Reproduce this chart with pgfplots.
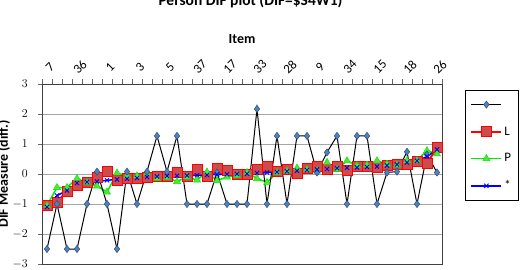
\documentclass[border=0pt]{standalone}
\usepackage{pgfplots}
\usepackage{pgfplotstable}
\pgfplotsset{compat=1.18}
\usepackage{fontspec}
\setmainfont{Carlito}
\definecolor{dfill}{RGB}{79,129,189}
\definecolor{ddraw}{RGB}{50,80,120}
\definecolor{lfill}{RGB}{205,75,75}
\definecolor{lline}{RGB}{255,0,0}
\definecolor{pfill}{RGB}{90,225,60}
\definecolor{pline}{RGB}{0,235,0}
\definecolor{sline}{RGB}{0,0,255}
\pgfplotstableread{
i D L P S
0 -2.5 -1.05 -1.05 -1.10
1 -1.0 -0.93 -0.45 -0.72
2 -2.5 -0.58 -0.45 -0.55
3 -2.5 -0.36 -0.15 -0.30
4 -1.0 -0.27 -0.28 -0.27
5 0.08 -0.12 -0.40 -0.25
6 -1.0 0.09 -0.60 -0.21
7 -2.5 -0.22 0.03 -0.18
8 0.08 -0.13 -0.06 -0.16
9 -1.0 -0.14 -0.06 -0.13
10 0.08 -0.11 0.02 -0.10
11 1.27 -0.06 -0.15 -0.08
12 0.08 -0.06 -0.12 -0.07
13 1.27 0.06 -0.25 -0.06
14 -1.0 -0.06 -0.10 -0.05
15 -1.0 0.15 -0.20 -0.04
16 -1.0 -0.06 0.07 -0.03
17 0.05 0.20 -0.22 -0.02
18 -1.0 0.11 -0.10 -0.01
19 -1.0 0.00 -0.05 0.00
20 -1.0 0.00 0.05 0.01
21 2.17 0.15 -0.15 0.03
22 -1.0 0.27 -0.28 0.05
23 1.27 0.08 0.05 0.07
24 -1.0 0.16 0.10 0.09
25 1.27 0.04 0.20 0.11
26 1.27 0.20 0.15 0.13
27 0.05 0.27 0.10 0.15
28 0.72 0.17 0.39 0.17
29 1.27 0.25 0.15 0.19
30 -1.0 0.11 0.44 0.21
31 1.27 0.25 0.28 0.22
32 1.27 0.27 0.30 0.23
33 -1.0 0.22 0.44 0.25
34 0.05 0.28 0.33 0.28
35 0.08 0.33 0.30 0.32
36 0.74 0.33 0.45 0.38
37 -1.0 0.44 0.45 0.44
38 0.65 0.36 0.78 0.58
39 0.05 0.88 0.67 0.82
}\data
\begin{document}
\begin{tikzpicture}
\useasboundingbox (-42bp,-6bp) rectangle (479bp,264bp);
\clip (-42bp,-6bp) rectangle (479bp,264bp);
\begin{axis}[
  at={(0bp,0bp)}, anchor=south west,
  width=400bp, height=180bp, scale only axis,
  xmin=-0.5, xmax=39.5, ymin=-3, ymax=3,
  xtick={0,3,...,39},
  xticklabels={7,36,1,3,5,37,17,33,28,9,34,15,18,26},
  minor xtick={-0.5,0.5,...,39.5},
  major x tick style={draw=none},
  minor tick length=5bp,
  major tick length=4bp,
  tick align=outside,
  xtick pos=right, xticklabel pos=right,
  ytick={-3,-2,-1,0,1,2,3}, ytick pos=left,
  ymajorgrids,
  grid style={draw=black!35, line width=0.9bp},
  axis line style={draw=black!75, line width=0.9bp},
  tick style={draw=black!60, line width=0.7bp},
  tick label style={font=\fontsize{13}{13}\selectfont},
  xticklabel style={anchor=center, xshift=3bp, yshift=13bp, rotate=45},
  yticklabel style={anchor=east, inner sep=0pt, xshift=-10bp},
  xlabel={Item},
  ylabel={DIF Measure (diff.)},
  every axis x label/.style={at={(axis description cs:0.5,1.25)}, anchor=center, font=\bfseries\fontsize{14}{14}\selectfont},
  every axis y label/.style={at={(axis description cs:0,0.5)}, xshift=-34bp, rotate=90, anchor=base, font=\bfseries\fontsize{14}{14}\selectfont},
  legend image code/.code={\draw[mark repeat=2,mark phase=2,#1] plot coordinates {(0bp,0bp) (15bp,0bp) (30bp,0bp)};},
  legend style={at={(axis description cs:1.0575,0.967)}, anchor=north west, draw=black, line width=0.8bp,
    font=\fontsize{13}{13}\selectfont, row sep=13bp, inner xsep=5bp, inner ysep=7bp},
  legend cell align=left,
]
\addlegendimage{black, line width=1bp, mark=diamond*, mark size=3.6bp, mark options={fill=dfill, draw=ddraw, line width=0.5bp}}
\addlegendentry{\strut}
\addlegendimage{lline, line width=2bp, mark=square*, mark size=5bp, mark options={fill=lfill, draw=lline, line width=0.6bp}}
\addlegendentry{L}
\addlegendimage{pline, line width=1.5bp, mark=triangle*, mark size=4bp, mark options={fill=pfill, draw=pline, line width=0.5bp}}
\addlegendentry{P}
\addlegendimage{sline, line width=1.5bp, mark=x, mark size=3bp, mark options={draw=sline, line width=0.9bp}}
\addlegendentry{*}
\addplot[forget plot, lline, line width=2bp, mark=square*, mark size=5bp, mark options={fill=lfill, draw=lline, line width=0.6bp}] table[x=i, y=L] {\data};
\addplot[forget plot, pline, line width=1.5bp, mark=triangle*, mark size=4bp, mark options={fill=pfill, draw=pline, line width=0.5bp}] table[x=i, y=P] {\data};
\addplot[forget plot, black, line width=1bp, mark=diamond*, mark size=3.6bp, mark options={fill=dfill, draw=ddraw, line width=0.5bp}] table[x=i, y=D] {\data};
\addplot[forget plot, sline, line width=1.5bp, mark=x, mark size=3bp, mark options={draw=sline, line width=0.9bp}] table[x=i, y=S] {\data};
\end{axis}
\node[anchor=base, font=\bfseries\fontsize{15.5}{15.5}\selectfont] at (208.5bp,258bp) {Person DIF plot (DIF=\$S4W1)};
\end{tikzpicture}
\end{document}
